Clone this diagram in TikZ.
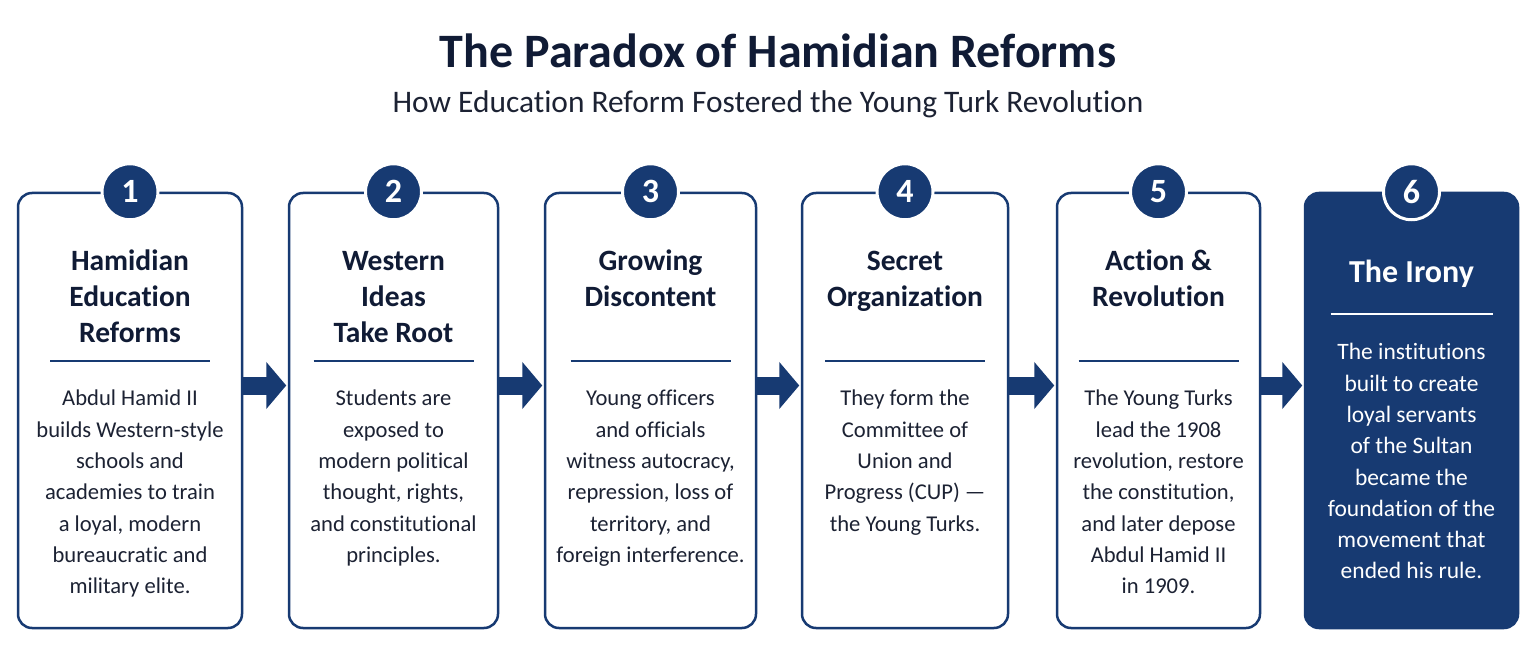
\documentclass[tikz,border=0pt]{standalone}
\usepackage{fontspec}
\setmainfont{Carlito}[Ligatures=NoCommon]
\usetikzlibrary{arrows.meta}
\definecolor{navy}{HTML}{173A72}
\definecolor{ink}{HTML}{101B35}
\definecolor{bodyink}{HTML}{1C2233}

\begin{document}
\begin{tikzpicture}[x=1pt,y=-1pt,
  stagebox/.style={draw=navy,line width=2.5pt,rounded corners=14pt,minimum width=#1,minimum height=435pt,inner sep=0pt},
  numdot/.style={circle,fill=navy,draw=white,line width=3pt,minimum size=56pt,inner sep=0pt,text=white,font=\fontsize{34}{34}\selectfont\bfseries},
  headtxt/.style={anchor=north,inner sep=0pt,align=center,text=ink,font=\fontsize{29.5}{36}\selectfont\bfseries},
  bodytxt/.style={anchor=north,inner sep=0pt,align=center,text=bodyink,font=\fontsize{22.6}{31.3}\selectfont},
  sepline/.style={navy,line width=1.5pt},
  flowarrow/.style={navy,line width=18pt,-{Triangle[length=20pt,width=46pt]},shorten >=1.5pt}]
  \useasboundingbox[fill=white] (0,0) rectangle (1536,660);

  \node[anchor=base,text=ink,font=\fontsize{48}{48}\selectfont\bfseries] (title) at (778,68) {The Paradox of Hamidian Reforms};
  \node[anchor=base,text=bodyink,font=\fontsize{31.4}{32}\selectfont] (subtitle) at (768,113) {How Education Reform Fostered the Young Turk Revolution};

  % stage boxes
  \node[stagebox=224pt] (b1) at (130,410.5) {};
  \node[stagebox=209pt] (b2) at (393.5,410.5) {};
  \node[stagebox=211pt] (b3) at (650.5,410.5) {};
  \node[stagebox=206pt] (b4) at (905,410.5) {};
  \node[stagebox=203pt] (b5) at (1158.5,410.5) {};
  \node[stagebox=213pt,fill=navy] (b6) at (1411.5,410.5) {};

  \foreach \a/\b in {b1/b2,b2/b3,b3/b4,b4/b5,b5/b6}
    \draw[flowarrow] ([yshift=25pt]\a.east) -- ([yshift=25pt]\b.west);

  \foreach \i in {1,...,6}{
    \node[numdot] (n\i) at (b\i.north) {\i};
  }

  \node[headtxt] (h1) at ([yshift=-53pt]b1.north) {\strut Hamidian\\Education\\Reforms};
  \node[headtxt] (h2) at ([yshift=-53pt]b2.north) {\strut Western\\Ideas\\Take Root};
  \node[headtxt] (h3) at ([yshift=-53pt]b3.north) {\strut Growing\\Discontent};
  \node[headtxt] (h4) at ([yshift=-53pt]b4.north) {\strut Secret\\Organization};
  \node[headtxt] (h5) at ([yshift=-53pt]b5.north) {\strut Action \&\\Revolution};
  \node[headtxt,text=white,font=\fontsize{32}{36}\selectfont\bfseries] (h6) at ([yshift=-65pt]b6.north) {\strut The Irony};

  \foreach \i in {1,...,5}
    \draw[sepline] ([shift={(-80pt,-169pt)}]b\i.north) -- ([shift={(80pt,-169pt)}]b\i.north);
  \draw[sepline,white] ([shift={(-81pt,-122pt)}]b6.north) -- ([shift={(81pt,-122pt)}]b6.north);

  \node[bodytxt] (t1) at ([yshift=-192pt]b1.north) {\strut Abdul Hamid II\\builds Western-style\\schools and\\academies to train\\a loyal, modern\\bureaucratic and\\military elite.};
  \node[bodytxt] (t2) at ([yshift=-192pt]b2.north) {\strut Students are\\exposed to\\modern political\\thought, rights,\\and constitutional\\principles.};
  \node[bodytxt] (t3) at ([yshift=-192pt]b3.north) {\strut Young officers\\and officials\\witness autocracy,\\repression, loss of\\territory, and\\foreign interference.};
  \node[bodytxt] (t4) at ([yshift=-192pt]b4.north) {\strut They form the\\Committee of\\Union and\\Progress (CUP) —\\the Young Turks.};
  \node[bodytxt] (t5) at ([yshift=-192pt]b5.north) {\strut The Young Turks\\lead the 1908\\revolution, restore\\the constitution,\\and later depose\\Abdul Hamid II\\in 1909.};
  \node[bodytxt,text=white,font=\fontsize{23.5}{31.3}\selectfont] (t6) at ([yshift=-146pt]b6.north) {\strut The institutions\\built to create\\loyal servants\\of the Sultan\\became the\\foundation of the\\movement that\\ended his rule.};
\end{tikzpicture}
\end{document}
